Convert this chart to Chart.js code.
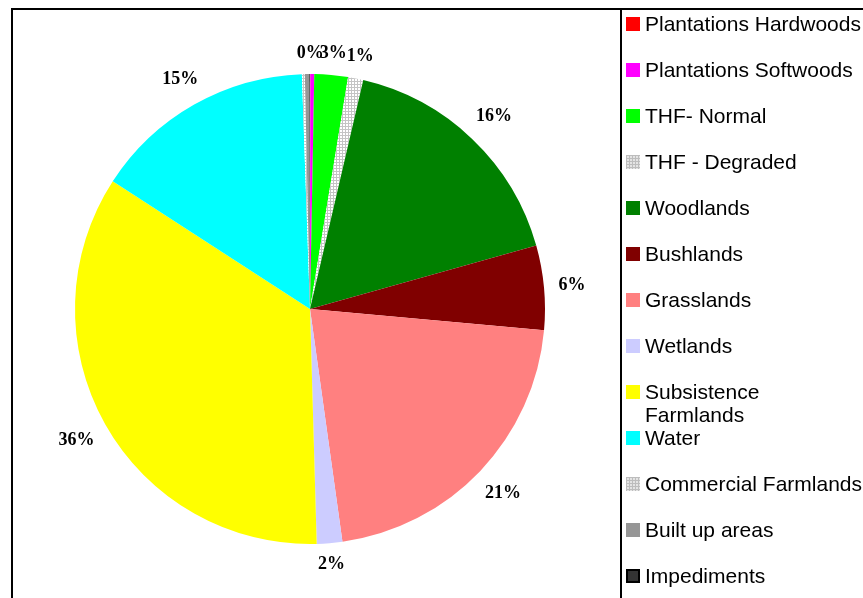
<!DOCTYPE html>
<html>
<head>
<meta charset="utf-8">
<script src="https://cdn.jsdelivr.net/npm/chart.js@4.4.1/dist/chart.umd.min.js"></script>
<style>
  html, body { margin:0; padding:0; background:#fff; }
  body { width:863px; height:598px; position:relative; overflow:hidden; font-family:"Liberation Sans", Arial, sans-serif; }
  #wrap { position:absolute; left:0; top:0; width:863px; height:598px; }
  .frame { position:absolute; left:11px; top:8px; width:900px; height:700px; border-left:2px solid #000; border-top:2px solid #000; }
  .legend-box { position:absolute; left:620px; top:8px; width:300px; height:700px; border-left:2px solid #000; }
  .legend { position:absolute; left:0; top:0; }
  .lg-item { position:absolute; left:645px; font-size:21px; line-height:23px; color:#000; white-space:nowrap; }
  .lg-sw { position:absolute; left:626px; width:14px; height:14px; box-sizing:border-box; }
</style>
</head>
<body>
<div class="frame"></div>
<div class="legend-box"></div>
<div id="wrap"><canvas id="pie" width="863" height="598"></canvas></div>
<div class="legend" id="legend"></div>
<script>
// ---- data ----------------------------------------------------------------
const categories = [
  'Plantations Hardwoods', 'Plantations Softwoods', 'THF- Normal', 'THF - Degraded',
  'Woodlands', 'Bushlands', 'Grasslands', 'Wetlands', 'Subsistence Farmlands',
  'Water', 'Commercial Farmlands', 'Built up areas', 'Impediments'
];
const shares = [0.02, 0.27, 2.3, 1.05, 17.0, 5.8, 21.35, 1.75, 34.6, 15.3, 0.2, 0.3, 0.05];
const shareLabels = ['0%', '', '3%', '1%', '16%', '6%', '21%', '2%', '36%', '15%', '', '', ''];
const sliceColors = ['#FF0000', '#FF00FF', '#00FF00', 'hatch', '#008000', '#800000', '#FF8080',
  '#CCCCFF', '#FFFF00', '#00FFFF', 'hatch', '#969696', '#333333'];
// legend wraps "Subsistence Farmlands" onto two lines
const legendLines = [
  ['Plantations Hardwoods'], ['Plantations Softwoods'], ['THF- Normal'], ['THF - Degraded'],
  ['Woodlands'], ['Bushlands'], ['Grasslands'], ['Wetlands'], ['Subsistence', 'Farmlands'],
  ['Water'], ['Commercial Farmlands'], ['Built up areas'], ['Impediments']
];

(() => {
  // light grey grid hatch used for the "degraded" and "commercial" slices
  const makeHatch = () => {
    const c = document.createElement('canvas');
    c.width = 3; c.height = 3;
    const g = c.getContext('2d');
    g.fillStyle = '#ffffff'; g.fillRect(0, 0, 3, 3);
    g.fillStyle = '#c4c4c4';
    g.fillRect(0, 0, 3, 1);
    g.fillRect(0, 0, 1, 3);
    return document.getElementById('pie').getContext('2d').createPattern(c, 'repeat');
  };
  const hatch = makeHatch();
  const fills = sliceColors.map(c => c === 'hatch' ? hatch : c);

  // outside-end percentage labels, Excel style
  const outsideLabels = {
    id: 'outsideLabels',
    afterDatasetsDraw(chart) {
      const ctx = chart.ctx;
      const meta = chart.getDatasetMeta(0);
      ctx.save();
      ctx.font = 'bold 18px "Liberation Serif", "Times New Roman", serif';
      ctx.fillStyle = '#000';
      ctx.textAlign = 'center';
      ctx.textBaseline = 'middle';
      meta.data.forEach((arc, i) => {
        const txt = shareLabels[i];
        if (!txt) return;
        const p = arc.getProps(['x', 'y', 'startAngle', 'endAngle', 'outerRadius'], true);
        const mid = (p.startAngle + p.endAngle) / 2;
        const cos = Math.cos(mid), sin = Math.sin(mid);
        const w = ctx.measureText(txt).width, h = 13;
        const rr = p.outerRadius + 14 + Math.abs(cos) * w / 2 + Math.abs(sin) * h / 2;
        ctx.fillText(txt, p.x + cos * rr, p.y + sin * rr);
      });
      ctx.restore();
    }
  };

  new Chart(document.getElementById('pie'), {
    type: 'pie',
    data: {
      labels: categories,
      datasets: [{
        data: shares,
        backgroundColor: fills,
        borderWidth: 0,
        hoverOffset: 0
      }]
    },
    options: {
      responsive: false,
      animation: false,
      layout: { padding: { left: 75, right: 318, top: 74, bottom: 54 } },
      plugins: { legend: { display: false }, tooltip: { enabled: false } }
    },
    plugins: [outsideLabels]
  });

  // legend drawn beside the chart, fixed 46px row pitch
  const legend = document.getElementById('legend');
  legend.innerHTML = categories.map((name, i) => {
    const top = 12 + 46 * i;
    const c = sliceColors[i];
    let sw = `background:${c};`;
    if (c === 'hatch') sw = 'background-color:#e4e4e4;background-image:linear-gradient(#bdbdbd 1px, transparent 1px),linear-gradient(90deg,#bdbdbd 1px, transparent 1px);background-size:3px 3px;';
    if (name === 'Impediments') sw += 'border:2px solid #000;';
    return `
      <div class="lg-sw" style="top:${17 + 46 * i}px;${sw}"></div>
      <div class="lg-item" style="top:${top}px;">${legendLines[i].join('<br>')}</div>`;
  }).join('');
})();
</script>
</body>
</html>
